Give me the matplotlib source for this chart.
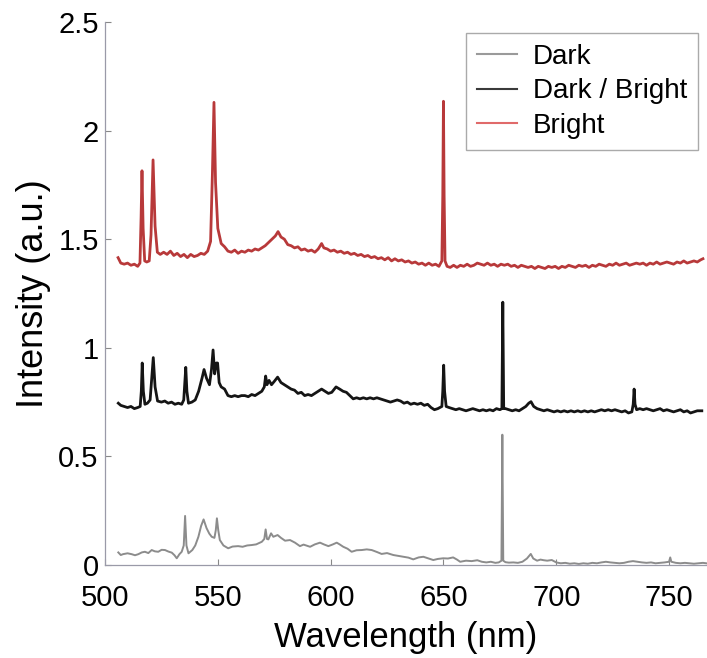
import matplotlib.pyplot as plt

plt.rcParams['font.family'] = ['Liberation Sans', 'DejaVu Sans']

# (wavelength nm, intensity) pairs, already offset for stacking
bright = [(505.8, 1.415), (507, 1.39), (508.5, 1.385), (510, 1.39), (511.5, 1.38), (513, 1.385),
          (514.5, 1.375), (515.5, 1.39), (516.0, 1.60), (516.4, 1.815), (516.9, 1.55),
          (517.6, 1.40), (518.5, 1.395), (519.6, 1.40), (520.4, 1.52), (521.3, 1.865),
          (522.2, 1.56), (523.2, 1.44), (524.5, 1.43), (526, 1.44), (527.5, 1.43), (529, 1.445),
          (530.5, 1.425), (532, 1.435), (533.5, 1.42), (535, 1.43), (536.5, 1.415), (538, 1.43),
          (539.5, 1.42), (541, 1.425), (542.5, 1.435), (544, 1.43), (545.5, 1.445), (546.8, 1.49),
          (547.6, 1.80), (548.3, 2.13), (549.0, 1.76), (550.0, 1.55), (551.5, 1.48),
          (553, 1.465), (554.5, 1.445), (556, 1.44), (557.5, 1.45), (559, 1.435), (560.5, 1.445),
          (562, 1.44), (563.5, 1.45), (565, 1.445), (566.5, 1.455), (568, 1.45), (569.5, 1.46),
          (571, 1.47), (572.5, 1.485), (574, 1.50), (575.5, 1.515), (576.7, 1.535), (578, 1.51),
          (579.5, 1.50), (581, 1.475), (582.5, 1.47), (584, 1.46), (585.5, 1.465), (587, 1.45),
          (588.5, 1.455), (590, 1.445), (591.5, 1.45), (593, 1.44), (594.5, 1.455),
          (596.0, 1.48), (597.0, 1.46), (598.5, 1.455), (600, 1.445), (601.5, 1.45),
          (603, 1.44), (604.5, 1.445), (606, 1.435), (607.5, 1.44), (609, 1.43), (610.5, 1.435),
          (612, 1.425), (613.5, 1.43), (615, 1.42), (616.5, 1.425), (618, 1.415), (619.5, 1.42),
          (621, 1.41), (622.5, 1.415), (624, 1.405), (625.5, 1.415), (627, 1.40), (628.5, 1.41),
          (630, 1.40), (631.5, 1.405), (633, 1.395), (634.5, 1.40), (636, 1.39), (637.5, 1.395),
          (639, 1.385), (640.5, 1.39), (642, 1.38), (643.5, 1.39), (645, 1.38), (646.5, 1.385),
          (648, 1.375), (649.3, 1.40), (649.7, 1.70), (650.0, 2.135), (650.3, 1.70),
          (650.7, 1.40), (651.6, 1.375), (653, 1.37), (654.5, 1.38), (656, 1.37), (657.5, 1.38),
          (659, 1.375), (660.5, 1.385), (662, 1.375), (663.5, 1.38), (665, 1.39), (666.5, 1.385),
          (668, 1.38), (669.5, 1.39), (671, 1.38), (672.5, 1.385), (674, 1.375), (675.5, 1.385),
          (677, 1.38), (678.5, 1.385), (680, 1.375), (681.5, 1.38), (683, 1.37), (684.5, 1.38),
          (686, 1.375), (687.5, 1.37), (689, 1.375), (690.5, 1.365), (692, 1.375), (693.5, 1.37),
          (695, 1.365), (696.5, 1.375), (698, 1.37), (699.5, 1.375), (701, 1.365), (702.5, 1.375),
          (704, 1.37), (705.5, 1.38), (707, 1.375), (708.5, 1.37), (710, 1.38), (711.5, 1.375),
          (713, 1.38), (714.5, 1.37), (716, 1.38), (717.5, 1.375), (719, 1.385), (720.5, 1.38),
          (722, 1.375), (723.5, 1.385), (725, 1.38), (726.5, 1.39), (728, 1.38), (729.5, 1.385),
          (731, 1.39), (732.5, 1.38), (734, 1.385), (735.5, 1.39), (737, 1.385), (738.5, 1.39),
          (740, 1.38), (741.5, 1.39), (743, 1.385), (744.5, 1.395), (746, 1.385), (747.5, 1.39),
          (749, 1.395), (750.5, 1.39), (752, 1.385), (753.5, 1.395), (755, 1.39), (756.5, 1.40),
          (758, 1.39), (759.5, 1.395), (761, 1.40), (762.5, 1.395), (764, 1.405), (765, 1.41)]

ratio = [(505.9, 0.745), (507, 0.735), (508.5, 0.73), (510, 0.725), (511.5, 0.73), (513, 0.72),
         (514.5, 0.725), (515.6, 0.73), (516.1, 0.80), (516.5, 0.93), (517.0, 0.80),
         (517.7, 0.74), (518.8, 0.745), (520.0, 0.76), (520.7, 0.86), (521.4, 0.955),
         (522.2, 0.82), (523.3, 0.755), (525, 0.75), (526.5, 0.755), (528, 0.745), (529.5, 0.75),
         (531, 0.74), (532.5, 0.745), (534, 0.74), (534.9, 0.76), (535.4, 0.84), (535.8, 0.91),
         (536.3, 0.80), (537, 0.745), (538.5, 0.75), (540, 0.76), (541.5, 0.80), (543, 0.86),
         (543.9, 0.90), (545, 0.86), (546.3, 0.83), (547.2, 0.90), (547.9, 0.99), (548.6, 0.88),
         (549.3, 0.93), (549.9, 0.93), (550.6, 0.84), (551.5, 0.82), (553, 0.81), (554.5, 0.78),
         (556, 0.775), (557.5, 0.78), (559, 0.775), (560.5, 0.78), (562, 0.78), (563.5, 0.775),
         (565, 0.785), (566.5, 0.78), (568, 0.79), (569.5, 0.80), (570.6, 0.82), (571.2, 0.87),
         (571.8, 0.83), (572.7, 0.85), (573.8, 0.83), (575, 0.845), (576.5, 0.865), (578, 0.84),
         (579.5, 0.83), (581, 0.82), (582.5, 0.81), (584, 0.805), (585.5, 0.79), (587, 0.795),
         (588.5, 0.78), (590, 0.785), (591.5, 0.78), (593, 0.79), (594.5, 0.80), (596, 0.81),
         (597.5, 0.80), (599, 0.79), (600.5, 0.795), (602.4, 0.82), (604, 0.81), (605.5, 0.80),
         (607, 0.795), (608.5, 0.78), (610, 0.765), (611.5, 0.77), (613, 0.765), (614.5, 0.77),
         (616, 0.765), (617.5, 0.77), (619, 0.765), (620.5, 0.77), (622, 0.765), (623.5, 0.76),
         (625, 0.755), (626.5, 0.75), (628, 0.755), (629.5, 0.76), (631, 0.755), (632.5, 0.745),
         (634, 0.75), (635.5, 0.74), (637, 0.745), (638.5, 0.74), (640, 0.745), (641.5, 0.735),
         (643, 0.74), (644.5, 0.725), (646, 0.715), (647.5, 0.72), (649.3, 0.73), (649.7, 0.80),
         (650.1, 0.92), (650.5, 0.80), (651.2, 0.73), (652.5, 0.725), (654, 0.72),
         (655.5, 0.715), (657, 0.72), (658.5, 0.715), (660, 0.71), (661.5, 0.715), (663, 0.72),
         (664.5, 0.715), (666, 0.71), (667.5, 0.715), (669, 0.71), (670.5, 0.715), (672, 0.71),
         (673.5, 0.72), (675, 0.715), (675.9, 0.72), (676.3, 1.21), (676.7, 0.72),
         (677.5, 0.72), (679, 0.715), (680.5, 0.71), (682, 0.715), (683.5, 0.71), (685, 0.72),
         (686.5, 0.73), (687.8, 0.745), (688.8, 0.752), (690, 0.73), (691.5, 0.72),
         (693, 0.715), (694.5, 0.71), (696, 0.715), (697.5, 0.71), (699, 0.705), (700.5, 0.71),
         (702, 0.705), (703.5, 0.71), (705, 0.705), (706.5, 0.71), (708, 0.705), (709.5, 0.71),
         (711, 0.705), (712.5, 0.71), (714, 0.705), (715.5, 0.71), (717, 0.705), (718.5, 0.71),
         (720, 0.715), (721.5, 0.71), (723, 0.715), (724.5, 0.71), (726, 0.715), (727.5, 0.71),
         (729, 0.705), (730.5, 0.71), (732, 0.70), (733.5, 0.705), (734.1, 0.74), (734.5, 0.81),
         (734.9, 0.74), (735.6, 0.715), (737, 0.72), (738.5, 0.715), (740, 0.72), (741.5, 0.715),
         (743, 0.71), (744.5, 0.715), (746, 0.72), (747.5, 0.71), (749, 0.715), (750.5, 0.71),
         (752, 0.705), (753.5, 0.71), (755, 0.715), (756.5, 0.705), (758, 0.71), (759.5, 0.70),
         (761, 0.705), (762.5, 0.71), (764.5, 0.71)]

dark = [(505.9, 0.058), (507, 0.046), (508, 0.05), (510, 0.054), (511.8, 0.05), (513.3, 0.045),
        (514.8, 0.05), (516.3, 0.058), (517.7, 0.061), (519.2, 0.055), (520.7, 0.069),
        (522.1, 0.063), (523.6, 0.061), (525.1, 0.07), (526.6, 0.069), (528.1, 0.062),
        (529.6, 0.057), (530.8, 0.045), (531.8, 0.031), (533, 0.05), (534, 0.061), (534.9, 0.09),
        (535.5, 0.226), (536.1, 0.09), (537, 0.054), (538.7, 0.069), (540, 0.09), (541.4, 0.13),
        (542.6, 0.18), (543.7, 0.21), (545, 0.17), (546.2, 0.145), (547.3, 0.13),
        (548.5, 0.125), (549.1, 0.16), (549.6, 0.215), (550.2, 0.16), (550.9, 0.115),
        (552.5, 0.09), (554.6, 0.077), (556.5, 0.085), (559, 0.087), (561, 0.084), (563, 0.09),
        (565, 0.092), (567, 0.095), (569.5, 0.107), (570.6, 0.12), (571.2, 0.164),
        (571.8, 0.12), (572.4, 0.118), (573.6, 0.146), (574.6, 0.13), (576.5, 0.138),
        (578, 0.125), (579.8, 0.112), (582, 0.115), (584.2, 0.103), (586.4, 0.087),
        (588, 0.094), (590.9, 0.084), (593, 0.095), (595.3, 0.103), (597, 0.095), (599, 0.087),
        (601, 0.095), (602.7, 0.103), (604, 0.095), (605.6, 0.084), (607.5, 0.075),
        (609.3, 0.061), (611.5, 0.068), (613.8, 0.069), (616, 0.072), (618.2, 0.069),
        (620.5, 0.06), (622.6, 0.051), (625, 0.055), (627.8, 0.046), (630, 0.042),
        (632.2, 0.038), (634.5, 0.034), (636.6, 0.026), (639, 0.035), (641.1, 0.038),
        (643.5, 0.03), (645.5, 0.023), (647.5, 0.028), (649.9, 0.031), (652, 0.03),
        (654.3, 0.035), (656, 0.025), (657.4, 0.015), (660, 0.02), (662.5, 0.018),
        (665, 0.022), (667, 0.015), (669, 0.012), (671, 0.015), (673, 0.01), (674.5, 0.012),
        (675.7, 0.02), (676.1, 0.60), (676.5, 0.02), (677.5, 0.013), (679, 0.011),
        (681, 0.012), (683, 0.01), (685, 0.015), (687, 0.03), (687.8, 0.04), (688.7, 0.051),
        (689.8, 0.03), (691.5, 0.02), (693, 0.025), (694.5, 0.022), (696, 0.02), (698, 0.023),
        (700, 0.012), (702, 0.008), (704, 0.01), (706, 0.006), (708, 0.008), (710, 0.005),
        (712, 0.008), (714, 0.006), (716, 0.01), (718, 0.008), (720, 0.012), (722, 0.015),
        (724, 0.012), (726, 0.01), (728, 0.008), (730, 0.01), (732, 0.015), (734, 0.018),
        (736, 0.015), (738, 0.012), (740, 0.01), (742, 0.012), (744, 0.008), (746, 0.01),
        (748, 0.012), (750, 0.015), (750.5, 0.035), (751, 0.015), (753, 0.01), (755, 0.008),
        (757, 0.01), (759, 0.008), (761, 0.006), (763, 0.008), (765, 0.01), (766.5, 0.008)]

labels = ['Dark', 'Dark / Bright', 'Bright']
colors = ['#8c8c8c', '#151515', '#b8393a']
legend_colors = ['#9a9a9a', '#3a3a3a', '#e06a6a']

fig = plt.figure(figsize=(7.07, 6.58), dpi=100)
ax = fig.add_axes([0.1485, 0.1413, 0.8515, 0.8253])

widths = [1.4, 2.0, 2.0]
for data, c, lw, lab in zip([dark, ratio, bright], colors, widths, labels):
    nm, val = zip(*data)
    ax.plot(nm, val, color=c, lw=lw, label=lab)

ax.set_xlim(500, 766.8)
ax.set_ylim(0, 2.5)
ax.set_xticks([500, 550, 600, 650, 700, 750])
ax.set_yticks([0, 0.5, 1, 1.5, 2, 2.5])
ax.set_yticklabels(['0', '0.5', '1', '1.5', '2', '2.5'])
ax.tick_params(direction='in', length=4, width=0.8, color='#888888', labelsize=21)
ax.tick_params(axis='x', pad=14)
ax.tick_params(axis='y', pad=4.5)
for s in ['top', 'right']:
    ax.spines[s].set_visible(False)
for s in ['left', 'bottom']:
    ax.spines[s].set_color('#9a9aa8')
    ax.spines[s].set_linewidth(0.9)

ax.set_xlabel('Wavelength (nm)', fontsize=25, labelpad=6)
ax.set_ylabel('Intensity (a.u.)', fontsize=26, labelpad=5)

leg = ax.legend(loc='upper right', bbox_to_anchor=(698 / 707, 1 - 33 / 658),
                bbox_transform=fig.transFigure, borderaxespad=0, fontsize=20,
                fancybox=False, edgecolor='#aaaaaa', handlelength=1.45, handletextpad=0.55,
                labelspacing=0.3, borderpad=0.4, framealpha=1)
for line, c in zip(leg.get_lines(), legend_colors):
    line.set_color(c)
    line.set_linewidth(1.5)

fig.savefig('out.png', dpi=100)
